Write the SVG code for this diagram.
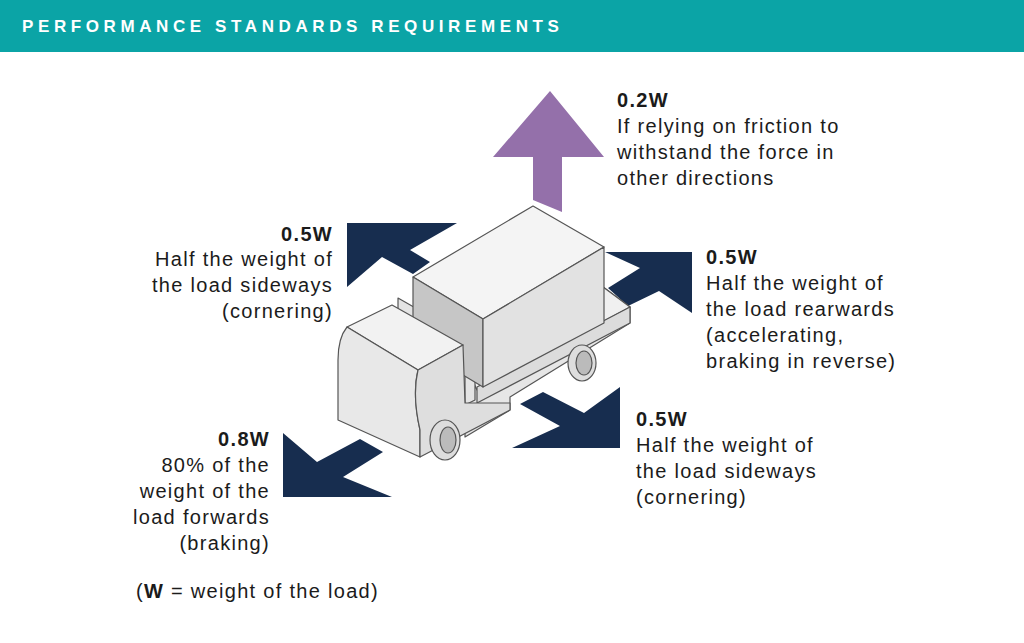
<svg xmlns="http://www.w3.org/2000/svg" width="1024" height="643" viewBox="0 0 1024 643">
<style>
text{font-family:"Liberation Sans",Arial,sans-serif;font-size:20px;letter-spacing:1.3px;fill:#1b1b1b}
.b{font-weight:bold}
.r{text-anchor:end}
.arr{fill:#172d4f}
.t{stroke:#555;stroke-width:1.2;stroke-linejoin:round}
</style>
<rect width="1024" height="643" fill="#fff"/>
<g id="header"><rect width="1024" height="52" fill="#0ba4a6"/>
<text x="22" y="32" style="fill:#fff;font-size:17px;font-weight:bold;letter-spacing:4.6px">PERFORMANCE STANDARDS REQUIREMENTS</text></g>
<g id="connectors">
<polygon fill="#9470aa" points="550,91 604,157 562,157 562,212 533,200 533,157 493,157"/>
<polygon class="arr" points="347,223 457,223 410,250 430,262 413,274 382,257 347,287"/>
<polygon class="arr" points="605,252 692,252 692,313 659,291 628,306 608,288 640,268"/>
<polygon class="arr" points="620,387 620,448 512,448 560,426 520,404 543,392 584,413"/>
<polygon class="arr" points="283,433 317,462 360,439 383,452 343,477 392,497 283,497"/>
</g>
<g id="truck">
<polygon class="t" fill="#e6e6e6" points="440,322 560,255 630,307 630,323 510,397 510,410 465,437 465,393 477,387"/>
<polygon class="t" fill="#f0f0f0" points="445,320 560,255 630,307 477,390"/>
<polygon class="t" fill="#dcdcdc" points="477,387 630,307 630,323 477,403"/>
<ellipse class="t" cx="582" cy="363" rx="14" ry="18" fill="#ddd"/>
<ellipse class="t" cx="584" cy="363" rx="8" ry="12" fill="#bbb"/>
<polygon class="t" fill="#e4e4e4" points="398,298 475,342 475,400 465,405 465,350 398,312"/>
<polygon class="t" fill="#f4f4f4" points="413,277 533,206 604,247 483,319"/>
<polygon class="t" fill="#c6c6c6" points="413,277 483,319 483,387 413,345"/>
<polygon class="t" fill="#e2e2e2" points="483,319 604,247 604,323 483,387"/>
<polygon class="t" fill="#f2f2f2" points="347,327 392,305 463,345 418,370"/>
<path class="t" fill="#e8e8e8" d="M347,327 L418,370 Q412,395 420,430 L420,457 L338,420 L338,360 Q338,338 347,327Z"/>
<path class="t" fill="#dedede" d="M418,370 L463,345 L465,403 L510,403 L510,410 L420,457 L420,430 Q412,395 418,370Z"/>
<ellipse class="t" cx="445" cy="440" rx="15" ry="20" fill="#ddd"/>
<ellipse class="t" cx="448" cy="440" rx="8" ry="13" fill="#bbb"/>
</g>
<g id="labels">
<text x="617" y="107" class="b">0.2W</text>
<text x="617" y="133">If relying on friction to</text>
<text x="617" y="159">withstand the force in</text>
<text x="617" y="185">other directions</text>
<text x="333" y="241" class="b r">0.5W</text>
<text x="333" y="266" class="r">Half the weight of</text>
<text x="333" y="292" class="r">the load sideways</text>
<text x="333" y="318" class="r">(cornering)</text>
<text x="706" y="264" class="b">0.5W</text>
<text x="706" y="290">Half the weight of</text>
<text x="706" y="316">the load rearwards</text>
<text x="706" y="342">(accelerating,</text>
<text x="706" y="368">braking in reverse)</text>
<text x="636" y="426" class="b">0.5W</text>
<text x="636" y="452">Half the weight of</text>
<text x="636" y="478">the load sideways</text>
<text x="636" y="504">(cornering)</text>
<text x="270" y="446" class="b r">0.8W</text>
<text x="270" y="472" class="r">80% of the</text>
<text x="270" y="498" class="r">weight of the</text>
<text x="270" y="524" class="r">load forwards</text>
<text x="270" y="550" class="r">(braking)</text>
<text x="136" y="598">(<tspan class="b">W</tspan> = weight of the load)</text>
</g>
</svg>
